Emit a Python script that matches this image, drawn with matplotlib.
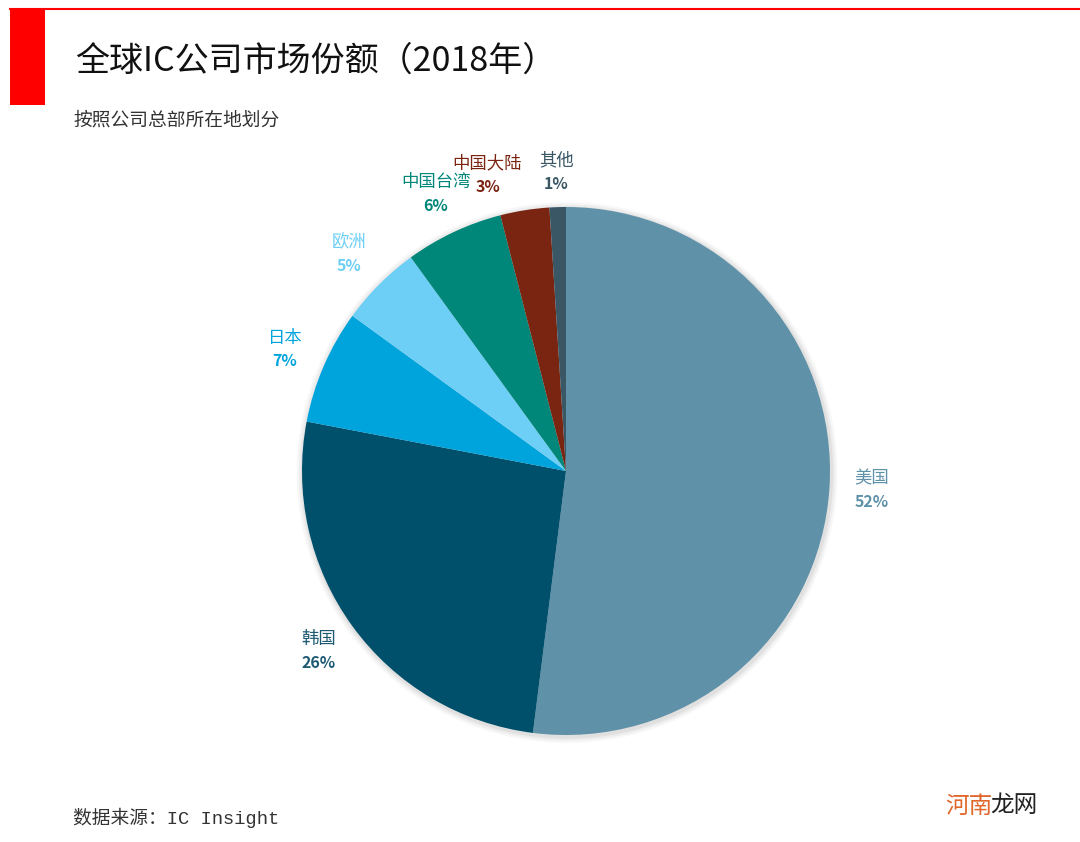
import numpy as np
import matplotlib.pyplot as plt
from matplotlib.patches import Rectangle, Circle

plt.rcParams['font.family'] = ['Noto Sans CJK SC', 'DejaVu Sans']

# ---- data ----
regions = ['美国', '韩国', '日本', '欧洲', '中国台湾', '中国大陆', '其他']
shares = [52, 26, 7, 5, 6, 3, 1]
colors = ['#5f91a8', '#00506b', '#00a4dc', '#6dcff6', '#00877a', '#7a2511', '#3a5766']
label_colors = ['#5f91a8', '#1e5a72', '#00a4dc', '#6dcff6', '#00877a', '#7a2511', '#3a5766']
# label nudges (points) so the two small top labels don't collide
nudge = {'中国大陆': (-22, -5), '其他': (0, -5)}

W, H = 1080, 842
fig = plt.figure(figsize=(W / 100, H / 100), dpi=100)
bg = fig.add_axes([0, 0, 1, 1]); bg.axis('off')
bg.set_xlim(0, W); bg.set_ylim(H, 0)

# header decoration
bg.plot([10, W], [8.5, 8.5], color='#ff0000', lw=1.5)
bg.add_patch(Rectangle((10, 9), 35, 96, facecolor='#ff0000', edgecolor='none'))
bg.text(75, 61, '全球IC公司市场份额（2018年）', fontsize=24.5, va='center', ha='left', color='#111111')
bg.text(73, 120, '按照公司总部所在地划分', fontsize=13.5, va='center', ha='left', color='#333333')
bg.text(73, 818, '数据来源：IC Insight', fontsize=13.5, va='center', ha='left', color='#333333',
        family=['Liberation Mono', 'Noto Sans CJK SC'])
bg.text(945, 806, '河南', fontsize=17, va='center', ha='left', color='#e0662a')
bg.text(990, 806, '龙网', fontsize=17, va='center', ha='left', color='#222222')

# ---- pie ----
cx, cy, r = 566, 471, 264
ax = fig.add_axes([(cx - r) / W, (H - cy - r) / H, 2 * r / W, 2 * r / H])

wedges, _ = ax.pie(shares, colors=colors, startangle=90, counterclock=False, radius=1.0,
                   wedgeprops=dict(linewidth=0))
ax.set_xlim(-1, 1); ax.set_ylim(-1, 1); ax.set_aspect('equal'); ax.axis('off')

for k, a in enumerate([0.05, 0.04, 0.03]):
    ax.add_patch(Circle((0.004, -0.006), 1.0 + 0.008 * (k + 1), facecolor='#000000', alpha=a,
                        edgecolor='none', zorder=0, clip_on=False))

for w, name, val, col in zip(wedges, regions, shares, label_colors):
    mid = np.deg2rad((w.theta1 + w.theta2) / 2)
    x, y = 1.16 * np.cos(mid), 1.16 * np.sin(mid)
    dx, dy = nudge.get(name, (0, 0))
    ax.annotate(name, (x, y), xytext=(dx, 8.5 + dy), textcoords='offset points', ha='center',
                va='center', fontsize=12.5, color=col, annotation_clip=False)
    ax.annotate(f'{val}%', (x, y), xytext=(dx, -8.5 + dy), textcoords='offset points', ha='center',
                va='center', fontsize=11.5, fontweight='bold', color=col, annotation_clip=False)

fig.savefig('out.png', dpi=100, facecolor='white')
